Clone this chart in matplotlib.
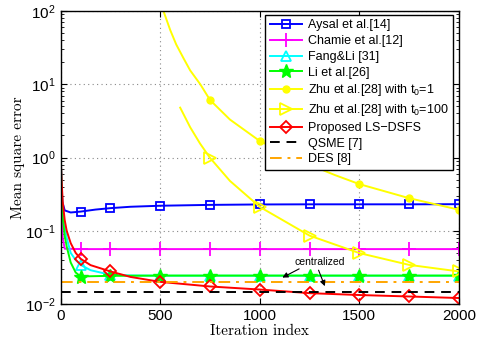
import matplotlib
matplotlib.use("Agg")
import matplotlib.pyplot as plt

plt.rcParams['font.family'] = ['Liberation Sans', 'DejaVu Sans']
plt.rcParams['mathtext.default'] = 'regular'

mark_x = [100, 250, 500, 750, 1000, 1250, 1500, 1750, 2000]

# Aysal et al.
aysal_x = [0, 3, 8, 20, 50, 100, 175, 250, 350, 500, 750, 1000, 1250, 1500, 1750, 2000]
aysal_y = [1.0, 0.5, 0.25, 0.19, 0.178, 0.183, 0.195, 0.204, 0.213, 0.22, 0.226, 0.229, 0.23, 0.23, 0.23, 0.231]

# Chamie et al.
chamie_x = [0, 4, 10, 20, 100, 250, 500, 750, 1000, 1250, 1500, 1750, 2000]
chamie_y = [1.0, 0.3, 0.08, 0.057, 0.0563, 0.0563, 0.0563, 0.0563, 0.0563, 0.0563, 0.0563, 0.0563, 0.0563]

# Fang&Li
fang_x = [0, 5, 10, 20, 30, 50, 75, 100, 150, 250, 350, 500, 750, 1000, 1250, 1500, 1750, 2000]
fang_y = [1.0, 0.4, 0.2, 0.11, 0.08, 0.05, 0.04, 0.0343, 0.029, 0.0251, 0.0246, 0.0244, 0.0244, 0.0244, 0.0244, 0.0244, 0.0244, 0.0244]

# Li et al.
li_x = [0, 5, 10, 20, 30, 50, 75, 100, 150, 250, 500, 750, 1000, 1250, 1500, 1750, 2000]
li_y = [1.0, 0.3, 0.15, 0.085, 0.061, 0.037, 0.027, 0.0238, 0.024, 0.0243, 0.0245, 0.0245, 0.0245, 0.0245, 0.0245, 0.0245, 0.0245]

# Zhu et al. t0=1
zhu1_x = [516, 550, 580, 617, 650, 701, 750, 850, 1000, 1125, 1250, 1375, 1500, 1750, 2000]
zhu1_y = [100, 55, 35, 22.6, 15.5, 10, 6.1, 3.3, 1.68, 1.15, 0.8, 0.58, 0.434, 0.279, 0.194]

# Zhu et al. t0=100
zhu100_x = [600, 650, 700, 750, 850, 1000, 1250, 1500, 1750, 2000]
zhu100_y = [4.8, 2.6, 1.55, 0.99, 0.48, 0.212, 0.086, 0.0497, 0.0343, 0.0279]

# Proposed LS-DSFS
prop_x = [0, 5, 10, 20, 30, 50, 75, 100, 150, 250, 350, 500, 750, 1000, 1250, 1500, 1750, 2000]
prop_y = [1.0, 0.45, 0.25, 0.14, 0.1, 0.068, 0.05, 0.0415, 0.034, 0.0279, 0.0235, 0.0201, 0.0174, 0.0158, 0.0141, 0.0133, 0.0127, 0.0121]

qsme_x = [0, 2000]
qsme_y = [0.0146, 0.0146]
des_x = [0, 2000]
des_y = [0.0203, 0.0203]


def marks(xs):
    return [i for i, v in enumerate(xs) if v in mark_x]


fig = plt.figure(figsize=(4.82, 3.44), dpi=100)
ax = fig.add_axes([0.126, 0.116, 0.826, 0.852])

lw = 1.4
ms = 6
ax.plot(aysal_x, aysal_y, color='#0000ff', lw=lw, marker='s', ms=ms, mfc='none', mew=1.3,
        markevery=marks(aysal_x), label='Aysal et al.[14]')
ax.plot(chamie_x, chamie_y, color='#ff00ff', lw=lw, marker='+', ms=10, mew=1.3,
        markevery=marks(chamie_x), label='Chamie et al.[12]')
ax.plot(fang_x, fang_y, color='#00ffff', lw=lw, marker='^', ms=7, mfc='none', mew=1.3,
        markevery=marks(fang_x), label='Fang&Li [31]')
ax.plot(li_x, li_y, color='#00ff00', lw=lw, marker='*', ms=10,
        markevery=marks(li_x), label='Li et al.[26]')
ax.plot(zhu1_x, zhu1_y, color='#ffff00', lw=lw, marker='o', ms=5,
        markevery=marks(zhu1_x), label='Zhu et al.[28] with t$_0$=1')
ax.plot(zhu100_x, zhu100_y, color='#ffff00', lw=lw, marker='>', ms=8, mfc='none', mew=1.3,
        markevery=marks(zhu100_x), label='Zhu et al.[28] with t$_0$=100')
ax.plot(prop_x, prop_y, color='#ff0000', lw=lw, marker='D', ms=6, mfc='none', mew=1.3,
        markevery=marks(prop_x), label='Proposed LS\u2212DSFS')
ax.plot(qsme_x, qsme_y, color='black', lw=lw, ls=(0, (5, 3.5)), label='QSME [7]')
ax.plot(des_x, des_y, color='#ffa500', lw=lw, ls=(0, (6, 3, 1.5, 3)), label='DES [8]')

ax.annotate('', xy=(1101, 0.0221), xytext=(1210, 0.0315),
            arrowprops=dict(arrowstyle='-|>', color='black', lw=0.8, mutation_scale=8))
ax.annotate('', xy=(1332, 0.0162), xytext=(1290, 0.0315),
            arrowprops=dict(arrowstyle='-|>', color='black', lw=0.8, mutation_scale=8))
ax.text(1300, 0.037, 'centralized', fontsize=7.5, ha='center', va='center')

ax.set_yscale('log')
ax.set_xlim(0, 2000)
ax.set_ylim(1e-2, 1e2)
ax.set_xticks([0, 500, 1000, 1500, 2000])
ax.grid(True, which='major', ls=(0, (1, 3)), color='#888888', lw=0.8)
ax.tick_params(which='both', direction='in', top=True, right=True, labelsize=11)
ax.tick_params(which='major', length=4)
ax.tick_params(which='minor', length=2)
for s in ax.spines.values():
    s.set_linewidth(1.0)

ax.set_xlabel('Iteration index', family='cmr10', fontsize=11, labelpad=1)
ax.set_ylabel('Mean square error', family='cmr10', fontsize=11, labelpad=0)

leg = ax.legend(loc='upper right', bbox_to_anchor=(0.985, 0.986), borderaxespad=0,
                fontsize=9, handlelength=2.6, handletextpad=0.45, labelspacing=0.3,
                borderpad=0.35, fancybox=False, framealpha=1, edgecolor='black')
leg.get_frame().set_linewidth(1.0)

plt.savefig('out.png', dpi=100)
